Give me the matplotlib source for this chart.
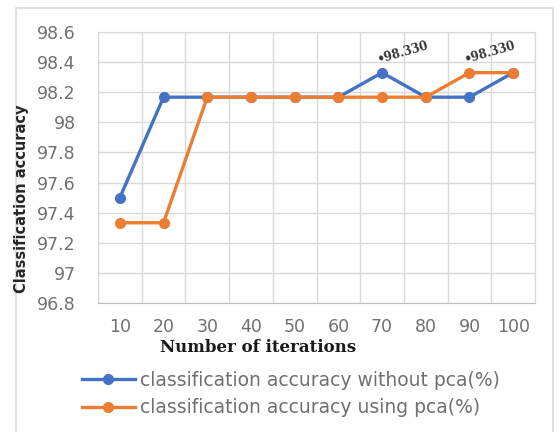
import matplotlib.pyplot as plt
import numpy as np
from matplotlib.patches import Rectangle
from matplotlib.lines import Line2D

iterations = [10, 20, 30, 40, 50, 60, 70, 80, 90, 100]
acc_without_pca = [97.5, 98.167, 98.167, 98.167, 98.167, 98.167, 98.33, 98.167, 98.167, 98.33]
acc_with_pca = [97.333, 97.333, 98.167, 98.167, 98.167, 98.167, 98.167, 98.167, 98.33, 98.33]
y_ticks = [96.8, 97, 97.2, 97.4, 97.6, 97.8, 98, 98.2, 98.4, 98.6]
# points that carry a value label: (index, series)
labelled = [(6, acc_without_pca), (8, acc_with_pca)]

blue = '#4472C4'
orange = '#ED7D31'
grey_txt = '#707070'
grid_c = '#d9d9d9'

fig = plt.figure(figsize=(5.6, 4.32), dpi=100)
ax = fig.add_axes([98 / 560, 1 - 303 / 432, 437 / 560, 271 / 432])

# outer chart frame
fig.patches.append(Rectangle((16 / 560, -0.1), 537 / 560, 1 - 8 / 432 + 0.1,
                             transform=fig.transFigure, fill=False,
                             edgecolor=grid_c, linewidth=1.2))

x = np.arange(1, len(iterations) + 1)
ax.plot(x, acc_without_pca, color=blue, lw=2.4, marker='o', ms=7, zorder=3)
ax.plot(x, acc_with_pca, color=orange, lw=2.4, marker='o', ms=7, zorder=4)

for i, series in labelled:
    ax.annotate('\u2022%.3f' % series[i], (x[i], series[i]), xytext=(-5, 5),
                textcoords='offset points', rotation=16, fontsize=8.5,
                fontweight='bold', family='DejaVu Serif', color='#333333',
                ha='left', va='bottom')

ax.set_xlim(0.5, len(iterations) + 0.5)
ax.set_ylim(y_ticks[0], y_ticks[-1])
ax.set_xticks(x)
ax.set_xticklabels([str(v) for v in iterations])
ax.set_yticks(y_ticks)
ax.set_yticklabels(['%g' % v for v in y_ticks])
ax.set_xticks(np.arange(0.5, len(iterations) + 1), minor=True)

ax.grid(True, which='major', axis='y', color=grid_c, lw=1)
ax.grid(True, which='minor', axis='x', color=grid_c, lw=1)
ax.set_axisbelow(True)
for s in ax.spines.values():
    s.set_color(grid_c)
ax.spines['bottom'].set_color('#c0c0c0')

ax.tick_params(axis='both', which='both', length=0, labelsize=12.5, labelcolor=grey_txt)
ax.tick_params(axis='y', pad=16)
ax.tick_params(axis='x', pad=11)

fig.text(22 / 560, 1 - 199 / 432, 'Classification accuracy', rotation=90,
         ha='center', va='center', fontsize=10.5, fontweight='bold', color='#262626')
fig.text(258 / 560, 1 - 348 / 432, 'Number of iterations', ha='center', va='center',
         fontsize=12, fontweight='bold', family='DejaVu Serif', color='#1a1a1a')

handles = [Line2D([], [], color=blue, lw=2.4, marker='o', ms=7),
           Line2D([], [], color=orange, lw=2.4, marker='o', ms=7)]
fig.legend(handles, ['classification accuracy without pca(%)',
                     'classification accuracy using pca(%)'],
           loc='upper left', bbox_to_anchor=(82 / 560, 1 - 371 / 432),
           frameon=False, fontsize=13.5, labelcolor=grey_txt, handlelength=2.8,
           handletextpad=0.3, labelspacing=0.45, borderpad=0, borderaxespad=0)

fig.savefig('out.png', dpi=100)
